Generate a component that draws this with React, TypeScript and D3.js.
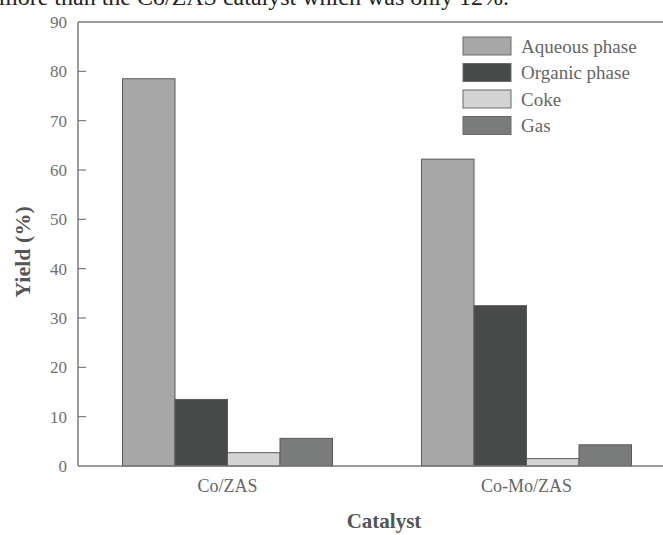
import React from "react";
import * as d3 from "d3";

const catalysts = ["Co/ZAS", "Co-Mo/ZAS"];
const phases = ["Aqueous phase", "Organic phase", "Coke", "Gas"];
const aqueous = [78.5, 62.2];
const organic = [13.5, 32.5];
const coke = [2.7, 1.5];
const gas = [5.6, 4.3];
const yTicks = [0, 10, 20, 30, 40, 50, 60, 70, 80, 90];
const phaseColors = ["#a7a7a7", "#484a4a", "#d2d3d2", "#7a7b7b"];

const W = 663;
const H = 535;
const left = 78;
const top = 22;
const bottom = 466;
const font = "'Liberation Serif', 'Times New Roman', serif";

export default function App() {
  const series = [aqueous, organic, coke, gas];
  const y = d3.scaleLinear().domain([0, 90]).range([bottom, top]);
  const x0 = d3.scaleBand<string>().domain(catalysts).range([left, 676]);
  const groupW = 210;
  const x1 = d3.scaleBand<string>().domain(phases).range([0, groupW]);

  return (
    <svg
      width={W}
      height={H}
      style={{ position: "absolute", left: 0, top: 0, background: "#fff" }}
      fontFamily={font}
    >
      <text x={-1} y={5} fontSize={24} fill="#222">
        more than the Co/ZAS catalyst which was only 12%.
      </text>

      {/* bars */}
      {catalysts.map((c, ci) => {
        const cx = (x0(c) as number) + x0.bandwidth() / 2 - groupW / 2;
        return series.map((vals, si) => (
          <rect
            key={c + si}
            x={cx + (x1(phases[si]) as number)}
            y={y(vals[ci])}
            width={x1.bandwidth()}
            height={bottom - y(vals[ci])}
            fill={phaseColors[si]}
            stroke="#5a5a5a"
            strokeWidth={1}
          />
        ));
      })}

      {/* frame */}
      <line x1={left} x2={W} y1={top} y2={top} stroke="#7a7a7a" strokeWidth={1.5} />
      <line x1={left} x2={W} y1={bottom} y2={bottom} stroke="#7a7a7a" strokeWidth={1.5} />
      <line x1={left} x2={left} y1={top} y2={bottom} stroke="#7a7a7a" strokeWidth={1.5} />

      {/* y ticks */}
      {yTicks.map((t) => (
        <g key={t}>
          {t > 0 && t < 90 && (
            <line x1={left} x2={left + 8} y1={y(t)} y2={y(t)} stroke="#7a7a7a" strokeWidth={1.2} />
          )}
          <text
            x={left - 11}
            y={y(t)}
            dy="0.35em"
            textAnchor="end"
            fontSize={17}
            fill="#707070"
          >
            {t}
          </text>
        </g>
      ))}

      {/* category labels */}
      {catalysts.map((c) => (
        <text
          key={c}
          x={(x0(c) as number) + x0.bandwidth() / 2}
          y={492}
          textAnchor="middle"
          fontSize={18}
          fill="#666"
        >
          {c}
        </text>
      ))}

      <text x={384} y={528} textAnchor="middle" fontSize={21} fontWeight="bold" fill="#555">
        Catalyst
      </text>
      <text
        transform={`translate(30, ${(top + bottom) / 2 + 8}) rotate(-90)`}
        textAnchor="middle"
        fontSize={22}
        fontWeight="bold"
        fill="#555"
      >
        Yield (%)
      </text>

      {/* legend */}
      {phases.map((p, i) => (
        <g key={p} transform={`translate(463, ${37 + i * 26.5})`}>
          <rect width={48} height={18} fill={phaseColors[i]} stroke="#6a6a6a" strokeWidth={1} />
          <text x={58} y={9} dy="0.35em" fontSize={19} fill="#666">
            {p}
          </text>
        </g>
      ))}
    </svg>
  );
}
